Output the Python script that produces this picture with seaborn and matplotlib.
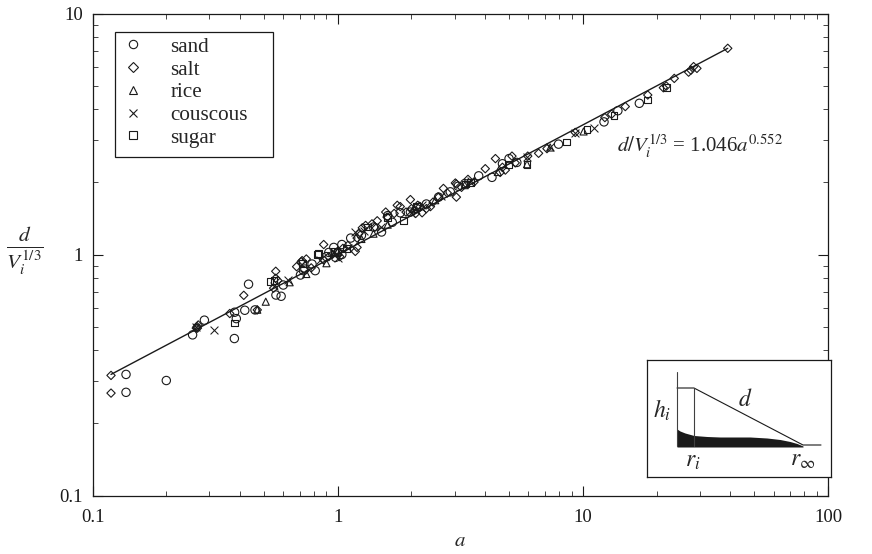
import matplotlib
matplotlib.use("Agg")
import matplotlib.pyplot as plt
import seaborn as sns
from matplotlib.patches import Rectangle
from matplotlib.ticker import FixedLocator, NullFormatter

# --- data ---
sand_a = [0.137, 0.137, 0.2, 0.256, 0.286, 0.379, 0.38, 0.386, 0.418, 0.433, 0.46, 0.56, 0.588, 0.6,
          0.705, 0.725, 0.786, 0.81, 0.735, 0.964, 0.98, 1.04, 1.04, 1.13, 1.51, 1.67, 1.80, 2.88,
          4.26, 7.96, 12.2, 13.9, 17, 1.98, 2.58, 3.76, 5.38,
          0.9, 1.0, 1.25, 1.4, 2.1, 2.3, 3.1, 3.3, 4.7, 5.0, 0.92, 1.6]
sand_d = [0.318, 0.268, 0.30, 0.464, 0.534, 0.448, 0.576, 0.542, 0.587, 0.753, 0.589, 0.679, 0.671, 0.747,
          0.822, 0.857, 0.913, 0.857, 0.87, 1.07, 0.973, 1.10, 1.0, 1.17, 1.24, 1.36, 1.49, 1.82,
          2.09, 2.87, 3.55, 3.95, 4.24, 1.5, 1.73, 2.12, 2.41,
          0.98, 1.02, 1.2, 1.3, 1.55, 1.62, 1.92, 1.97, 2.38, 2.5, 1.02, 1.45]

salt_a = [0.119, 0.119, 0.267, 0.265, 0.27, 0.363, 0.414, 0.47, 0.548, 0.559, 0.559, 0.57, 0.71, 0.745,
          0.716, 0.877, 0.877, 1.2, 1.18, 1.38, 1.42, 1.57, 1.59, 1.80, 1.98, 2.17, 2.21, 2.39, 2.58,
          3.05, 3.05, 3.02, 4.0, 4.83, 5.14, 4.6, 5.96, 6.6, 7.14, 9.31, 12.3, 13.1, 14.9, 18.4, 21.9,
          21.3, 23.6, 27, 27.6, 28.3, 29.2, 39, 1.0, 1.1, 1.2, 1.02, 0.95, 2.05, 2.12, 2.3, 1.9,
          0.68, 0.78, 0.92, 1.05, 1.22, 1.3, 1.26, 1.45, 1.7, 1.75, 2.0, 2.08, 2.45, 2.7, 2.8, 3.2,
          3.4, 3.6, 4.4, 4.7, 5.3, 0.268]
salt_d = [0.315, 0.266, 0.502, 0.495, 0.51, 0.569, 0.677, 0.589, 0.725, 0.852, 0.797, 0.78, 0.933, 0.958,
          0.943, 1.10, 0.949, 1.07, 1.03, 1.34, 1.30, 1.5, 1.43, 1.58, 1.69, 1.58, 1.49, 1.58, 1.73,
          1.96, 1.73, 1.98, 2.27, 2.24, 2.56, 2.19, 2.56, 2.63, 2.75, 3.21, 3.70, 3.82, 4.11, 4.59, 5.0,
          4.92, 5.38, 5.71, 5.82, 6.02, 5.92, 7.17, 1.03, 1.09, 1.17, 0.98, 1.0, 1.52, 1.6, 1.55, 1.5,
          0.89, 0.88, 0.98, 1.06, 1.22, 1.32, 1.29, 1.38, 1.48, 1.6, 1.55, 1.48, 1.65, 1.88, 1.8, 1.9,
          2.05, 2.0, 2.5, 2.3, 2.4, 0.495]

rice_a = [0.47, 0.509, 0.637, 0.745, 0.9, 1.0, 1.25, 1.4, 1.6, 2.05, 2.5, 3.3, 5.92, 7.36, 10.07, 4.5]
rice_d = [0.59, 0.637, 0.767, 0.83, 0.92, 1.03, 1.16, 1.22, 1.33, 1.55, 1.68, 1.94, 2.37, 2.78, 3.24, 2.2]

couscous_a = [0.314, 0.548, 0.625, 0.85, 1.0, 1.1, 1.18, 1.28, 1.5, 2.0, 2.2, 2.65, 3.5, 5.9, 7.36, 9.31,
              11.1, 0.265]
couscous_d = [0.484, 0.74, 0.787, 0.95, 0.97, 1.06, 1.24, 1.25, 1.3, 1.48, 1.6, 1.75, 2.02, 2.55, 2.78, 3.2,
              3.36, 0.5]

sugar_a = [0.38, 0.53, 0.83, 0.837, 0.97, 1.09, 1.32, 1.85, 2.1, 3.31, 3.47, 4.98, 5.92, 8.55, 10.4, 13.4,
           18.4, 21.9, 1.6, 0.72, 0.55]
sugar_d = [0.52, 0.771, 1.0, 1.01, 1.03, 1.06, 1.3, 1.38, 1.58, 1.96, 1.99, 2.37, 2.37, 2.93, 3.31, 3.78,
           4.38, 4.95, 1.42, 0.92, 0.78]

fit_a = [0.119, 39]
fit_d = [0.318, 7.17]

tick_vals_x = [0.1, 1, 10, 100]
tick_labels_x = ["0.1", "1", "10", "100"]
tick_vals_y = [0.1, 1, 10]
tick_labels_y = ["0.1", "1", "10"]
minor_mult = [2, 3, 4, 5, 6, 7, 8, 9]

# inset sketch: radius and height in sketch units
pile_r = [0, 3, 8, 17, 30, 43, 73, 90, 103, 113, 120, 126]
pile_h = [17, 15, 13, 10.5, 9.5, 9, 9, 8, 6.5, 4.5, 2.5, 0]
profile_r = [0, 0, 17, 126, 144]
profile_h = [58, 58, 58, 1, 1]

W, H = 872, 554

sns.set_theme(style="ticks")
plt.rcParams["font.family"] = ["Liberation Serif", "DejaVu Serif"]
plt.rcParams["mathtext.fontset"] = "stix"

fig = plt.figure(figsize=(W / 100, H / 100), dpi=100)
ax = fig.add_axes([92.5 / W, 1 - 495.5 / H, (828 - 92.5) / W, (495.5 - 13.5) / H])

series = [
    ("sand", sand_a, sand_d, "o"),
    ("salt", salt_a, salt_d, "D"),
    ("rice", rice_a, rice_d, "^"),
    ("couscous", couscous_a, couscous_d, "x"),
    ("sugar", sugar_a, sugar_d, "s"),
]
sizes = {"o": 36, "D": 18, "^": 26, "x": 32, "s": 24}

sns.lineplot(x=fit_a, y=fit_d, color="k", lw=1.0, ax=ax, zorder=2, legend=False)
for name, xs, ys, mk in series:
    if mk == "x":
        sns.scatterplot(x=xs, y=ys, marker=mk, s=sizes[mk], color="k", linewidth=0.75,
                        ax=ax, zorder=3, legend=False)
    else:
        sns.scatterplot(x=xs, y=ys, marker=mk, s=sizes[mk], facecolor="none", edgecolor="k",
                        linewidth=0.8, ax=ax, zorder=3, legend=False)

ax.set_xscale("log")
ax.set_yscale("log")
ax.set_xlim(0.1, 100)
ax.set_ylim(0.1, 10)

for axis, vals, labels in [(ax.xaxis, tick_vals_x, tick_labels_x), (ax.yaxis, tick_vals_y, tick_labels_y)]:
    axis.set_major_locator(FixedLocator(vals))
    axis.set_minor_locator(FixedLocator([v * m for v in vals[:-1] for m in minor_mult]))
    axis.set_minor_formatter(NullFormatter())
ax.set_xticklabels(tick_labels_x)
ax.set_yticklabels(tick_labels_y)
ax.tick_params(which="major", direction="in", length=7.5, width=0.8, top=True, right=True,
               labelsize=13.5, colors="k", pad=7)
ax.tick_params(axis="x", which="major", pad=10)
ax.tick_params(which="minor", direction="in", length=3.5, width=0.6, top=True, right=True)
for s in ax.spines.values():
    s.set_linewidth(0.9)
    s.set_color("k")

ax.set_xlabel(r"$a$", fontsize=15, labelpad=4)
ax.set_ylabel("")
fig.text(25 / W, 1 - 250 / H, r"$\frac{d}{V_i^{1/3}}$", fontsize=22, ha="center", va="center")

fig.text(617 / W, 1 - 146 / H, r"$d/V_i^{1/3}$ = 1.046$a^{0.552}$", fontsize=15, ha="left", va="center")

# legend, its frame is drawn apart so it can keep the wide right margin
handles = []
for name, _, _, mk in series:
    if mk == "x":
        h = plt.Line2D([], [], marker=mk, ls="", color="k", ms=6, mew=0.8, label=name)
    else:
        h = plt.Line2D([], [], marker=mk, ls="", mfc="none", mec="k",
                       ms=6 if mk != "D" else 4.6, mew=0.8, label=name)
    handles.append(h)
ax.add_patch(Rectangle(((115 - 92.5) / 735.5, 1 - (157 - 13.5) / 482), 158 / 735.5, 125 / 482,
                       transform=ax.transAxes, fc="w", ec="k", lw=0.9, zorder=4))
leg = ax.legend(handles=handles, loc="upper left",
                bbox_to_anchor=((122.5 - 92.5) / 735.5, 1 - (37 - 13.5) / 482),
                borderaxespad=0, frameon=False, prop={"size": 15.2}, handletextpad=1.26,
                labelspacing=0.14, borderpad=0, handlelength=1.0)
leg.set_zorder(5)

# inset sketch
ins = fig.add_axes([647 / W, 1 - 477 / H, 184 / W, 117 / H])
ins.set_xlim(-30, 154)
ins.set_ylim(-31, 86)
ins.set_xticks([])
ins.set_yticks([])
for s in ins.spines.values():
    s.set_linewidth(0.9)
    s.set_color("k")
ins.fill_between(pile_r, pile_h, -1, color="k", lw=0)
sns.lineplot(x=profile_r, y=profile_h, color="k", lw=0.8, sort=False, ax=ins, legend=False)
ins.plot([0, 0], [0, 74], color="0.25", lw=0.8)
ins.plot([17, 17], [0, 58], color="0.25", lw=0.8)
ins.text(-15, 36, r"$h_i$", fontsize=17, ha="center", va="center")
ins.text(68, 46, r"$d$", fontsize=17, ha="center", va="center")
ins.text(16, -15, r"$r_i$", fontsize=17, ha="center", va="center")
ins.text(126, -14, r"$r_\infty$", fontsize=17, ha="center", va="center")
ins.set_xlabel("")
ins.set_ylabel("")

fig.savefig("out.png", dpi=100)
